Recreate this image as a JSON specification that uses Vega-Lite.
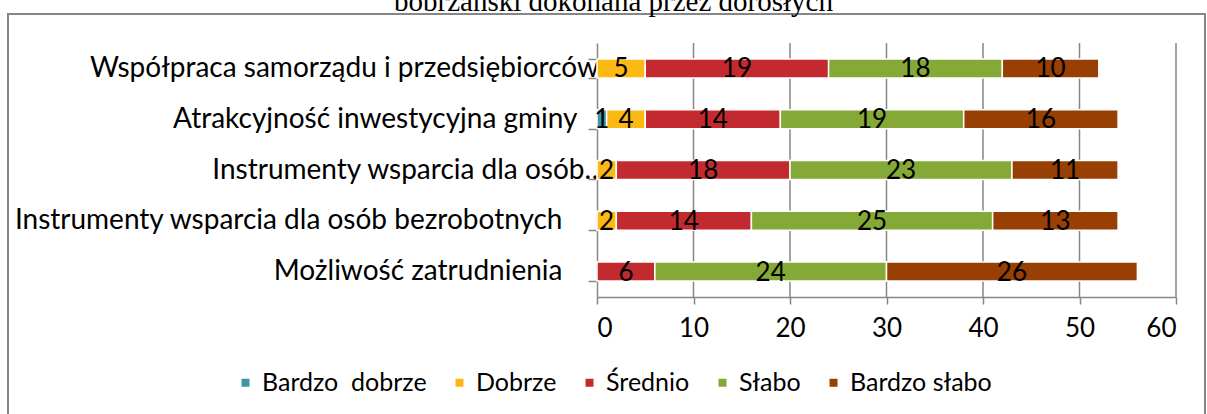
{
  "$schema": "https://vega.github.io/schema/vega-lite/v6.json",
  "width": 1197,
  "height": 420,
  "autosize": "none",
  "padding": {"left": 8, "top": 14, "right": 2, "bottom": 0},
  "background": "white",
  "config": {"view": {"stroke": "#868686", "strokeWidth": 2}, "font": "Lato"},
  "data": {"values": [
    {"aspekt": "Współpraca samorządu i przedsiębiorców", "ocena": "Dobrze", "k": 2, "liczba": 5},
    {"aspekt": "Współpraca samorządu i przedsiębiorców", "ocena": "Średnio", "k": 3, "liczba": 19},
    {"aspekt": "Współpraca samorządu i przedsiębiorców", "ocena": "Słabo", "k": 4, "liczba": 18},
    {"aspekt": "Współpraca samorządu i przedsiębiorców", "ocena": "Bardzo słabo", "k": 5, "liczba": 10},
    {"aspekt": "Atrakcyjność inwestycyjna gminy", "ocena": "Bardzo  dobrze", "k": 1, "liczba": 1},
    {"aspekt": "Atrakcyjność inwestycyjna gminy", "ocena": "Dobrze", "k": 2, "liczba": 4},
    {"aspekt": "Atrakcyjność inwestycyjna gminy", "ocena": "Średnio", "k": 3, "liczba": 14},
    {"aspekt": "Atrakcyjność inwestycyjna gminy", "ocena": "Słabo", "k": 4, "liczba": 19},
    {"aspekt": "Atrakcyjność inwestycyjna gminy", "ocena": "Bardzo słabo", "k": 5, "liczba": 16},
    {"aspekt": "Instrumenty wsparcia dla osób…", "ocena": "Dobrze", "k": 2, "liczba": 2},
    {"aspekt": "Instrumenty wsparcia dla osób…", "ocena": "Średnio", "k": 3, "liczba": 18},
    {"aspekt": "Instrumenty wsparcia dla osób…", "ocena": "Słabo", "k": 4, "liczba": 23},
    {"aspekt": "Instrumenty wsparcia dla osób…", "ocena": "Bardzo słabo", "k": 5, "liczba": 11},
    {"aspekt": "Instrumenty wsparcia dla osób bezrobotnych", "ocena": "Dobrze", "k": 2, "liczba": 2},
    {"aspekt": "Instrumenty wsparcia dla osób bezrobotnych", "ocena": "Średnio", "k": 3, "liczba": 14},
    {"aspekt": "Instrumenty wsparcia dla osób bezrobotnych", "ocena": "Słabo", "k": 4, "liczba": 25},
    {"aspekt": "Instrumenty wsparcia dla osób bezrobotnych", "ocena": "Bardzo słabo", "k": 5, "liczba": 13},
    {"aspekt": "Możliwość zatrudnienia", "ocena": "Średnio", "k": 3, "liczba": 6},
    {"aspekt": "Możliwość zatrudnienia", "ocena": "Słabo", "k": 4, "liczba": 24},
    {"aspekt": "Możliwość zatrudnienia", "ocena": "Bardzo słabo", "k": 5, "liczba": 26}
  ]},
  "resolve": {"scale": {"y": "independent", "x": "independent"}, "axis": {"x": "independent"}},
  "layer": [
    {
      "data": {"values": [{"g": 10}, {"g": 20}, {"g": 30}, {"g": 40}, {"g": 50}, {"g": 60}]},
      "mark": {"type": "rule", "color": "#868686", "strokeWidth": 1.5},
      "encoding": {
        "x": {"field": "g", "type": "quantitative",
          "scale": {"domain": [0, 60], "range": [589, 1168], "nice": false},
          "axis": {"orient": "top", "title": "bobrzański dokonana przez dorosłych", "titleFont": "Liberation Serif", "titleFontSize": 29, "titleFontWeight": "normal", "titleColor": "black", "titleX": 605, "titleY": -4, "titleAlign": "center", "titleAnchor": null, "titleBaseline": "alphabetic", "labels": false, "ticks": false, "domain": false, "grid": false}},
        "y": {"datum": 0, "type": "quantitative", "scale": {"domain": [0, 1], "range": [29, 283]}, "axis": null},
        "y2": {"datum": 1}
      }
    },
    {
      "layer": [
        {
          "mark": {"type": "bar", "stroke": "white", "strokeWidth": 1.5},
          "encoding": {
            "y": {"field": "aspekt", "type": "nominal",
              "sort": ["Współpraca samorządu i przedsiębiorców", "Atrakcyjność inwestycyjna gminy", "Instrumenty wsparcia dla osób…", "Instrumenty wsparcia dla osób bezrobotnych", "Możliwość zatrudnienia"],
              "scale": {"range": [29, 283], "paddingInner": 0.626, "paddingOuter": 0.313},
              "axis": {"title": null, "orient": "left", "offset": -589, "domainColor": "#868686", "domainWidth": 1.5, "tickColor": "#868686", "tickWidth": 1.5, "tickSize": 9, "tickBand": "extent", "labelFontSize": 28, "labelColor": "black", "labelPadding": -17, "labelLimit": 0, "grid": false,
                "labelExpr": "datum.label + (indexof(datum.label, 'Współpraca') >= 0 ? '\u00a0\u2060' : indexof(datum.label, 'Atrakcyjno') >= 0 ? '\u00a0\u00a0\u00a0\u00a0\u2060' : indexof(datum.label, 'bezrobotnych') >= 0 ? '\u00a0\u00a0\u00a0\u00a0\u00a0\u00a0\u2060' : indexof(datum.label, 'Możliwo') >= 0 ? '\u00a0\u00a0\u00a0\u00a0\u00a0\u00a0\u2060' : '')"}},
            "x": {"field": "liczba", "type": "quantitative", "stack": "zero",
              "scale": {"domain": [0, 60], "range": [589, 1168], "nice": false},
              "axis": {"title": null, "orient": "bottom", "offset": -137, "values": [0, 10, 20, 30, 40, 50, 60], "grid": false, "domainColor": "#868686", "domainWidth": 1.5, "tickColor": "#868686", "tickWidth": 1.5, "tickSize": 7, "labelFontSize": 26, "labelColor": "black", "labelPadding": 11}},
            "color": {"field": "ocena", "type": "nominal",
              "scale": {"domain": ["Bardzo  dobrze", "Dobrze", "Średnio", "Słabo", "Bardzo słabo"], "range": ["#3f94aa", "#fcb813", "#c32a2f", "#85a936", "#983f03"]},
              "legend": {"orient": "none", "legendX": 225, "legendY": 356, "direction": "horizontal", "title": null, "symbolType": "square", "symbolSize": 64, "symbolStrokeWidth": 0, "labelFontSize": 25, "labelColor": "black", "labelLimit": 0, "columnPadding": 20, "labelOffset": 4, "labelExpr": "replace(datum.label, '  ', ' \u00a0')"}},
            "order": {"field": "k"}
          }
        },
        {
          "mark": {"type": "text", "fontSize": 26, "color": "black", "dy": 1},
          "encoding": {
            "y": {"field": "aspekt", "type": "nominal",
              "sort": ["Współpraca samorządu i przedsiębiorców", "Atrakcyjność inwestycyjna gminy", "Instrumenty wsparcia dla osób…", "Instrumenty wsparcia dla osób bezrobotnych", "Możliwość zatrudnienia"]},
            "x": {"field": "liczba", "type": "quantitative", "stack": "zero", "bandPosition": 0.5},
            "detail": {"field": "ocena"},
            "order": {"field": "k"},
            "text": {"field": "liczba"}
          }
        }
      ]
    }
  ]
}
